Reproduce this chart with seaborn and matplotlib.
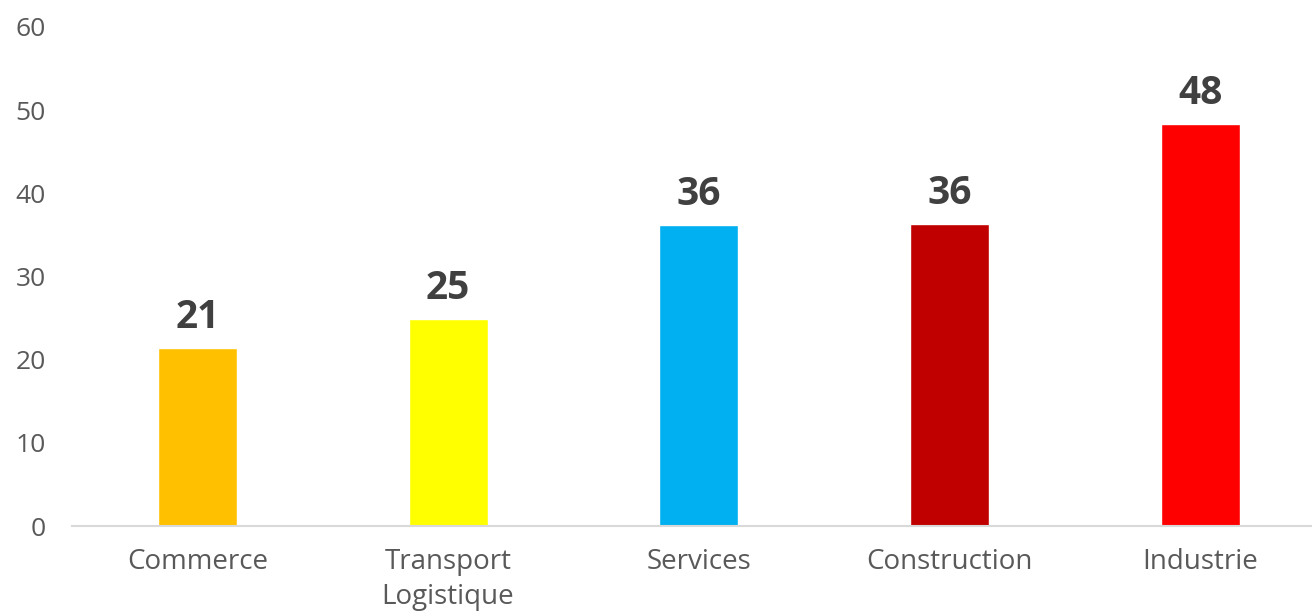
import pandas as pd
import seaborn as sns
import matplotlib.pyplot as plt

# data
sectors = ['Commerce', 'Transport\nLogistique', 'Services', 'Construction', 'Industrie']
values = [21.4, 24.9, 36.2, 36.3, 48.3]
bar_colors = ['#FFC000', '#FFFF00', '#00B0F0', '#C00000', '#FF0000']
y_ticks = [0, 10, 20, 30, 40, 50, 60]

df = pd.DataFrame({'Sector': sectors, 'Value': values})

sns.set_style('white')
plt.rcParams['font.family'] = ['Open Sans', 'DejaVu Sans']

fig = plt.figure(figsize=(13.12, 6.13), dpi=100)
ax = fig.add_axes([72 / 1312, 87 / 613, 1 - 72 / 1312, (526 - 27) / 613])

sns.barplot(data=df, x='Sector', y='Value', hue='Sector', palette=bar_colors,
            width=0.315, legend=False, ax=ax, saturation=1)

# value labels on top of bars
for container in ax.containers:
    ax.bar_label(container, labels=[f'{v:.0f}' for v in container.datavalues],
                 padding=8, fontsize=28, fontweight='bold', color='#404040')

ax.set_ylim(0, 60)
ax.set_xlim(-0.5, 4.446)
ax.set_yticks(y_ticks)
ax.set_xlabel('')
ax.set_ylabel('')

ax.tick_params(axis='y', length=0, pad=19, labelsize=19, labelcolor='#595959')
ax.tick_params(axis='x', length=0, pad=16, labelsize=20, labelcolor='#595959')
for lbl in ax.get_xticklabels():
    lbl.set_linespacing(1.3)

sns.despine(ax=ax, left=True, top=True, right=True)
ax.spines['bottom'].set_color('#D9D9D9')
ax.spines['bottom'].set_linewidth(1.5)

plt.savefig('out.png', dpi=100)
